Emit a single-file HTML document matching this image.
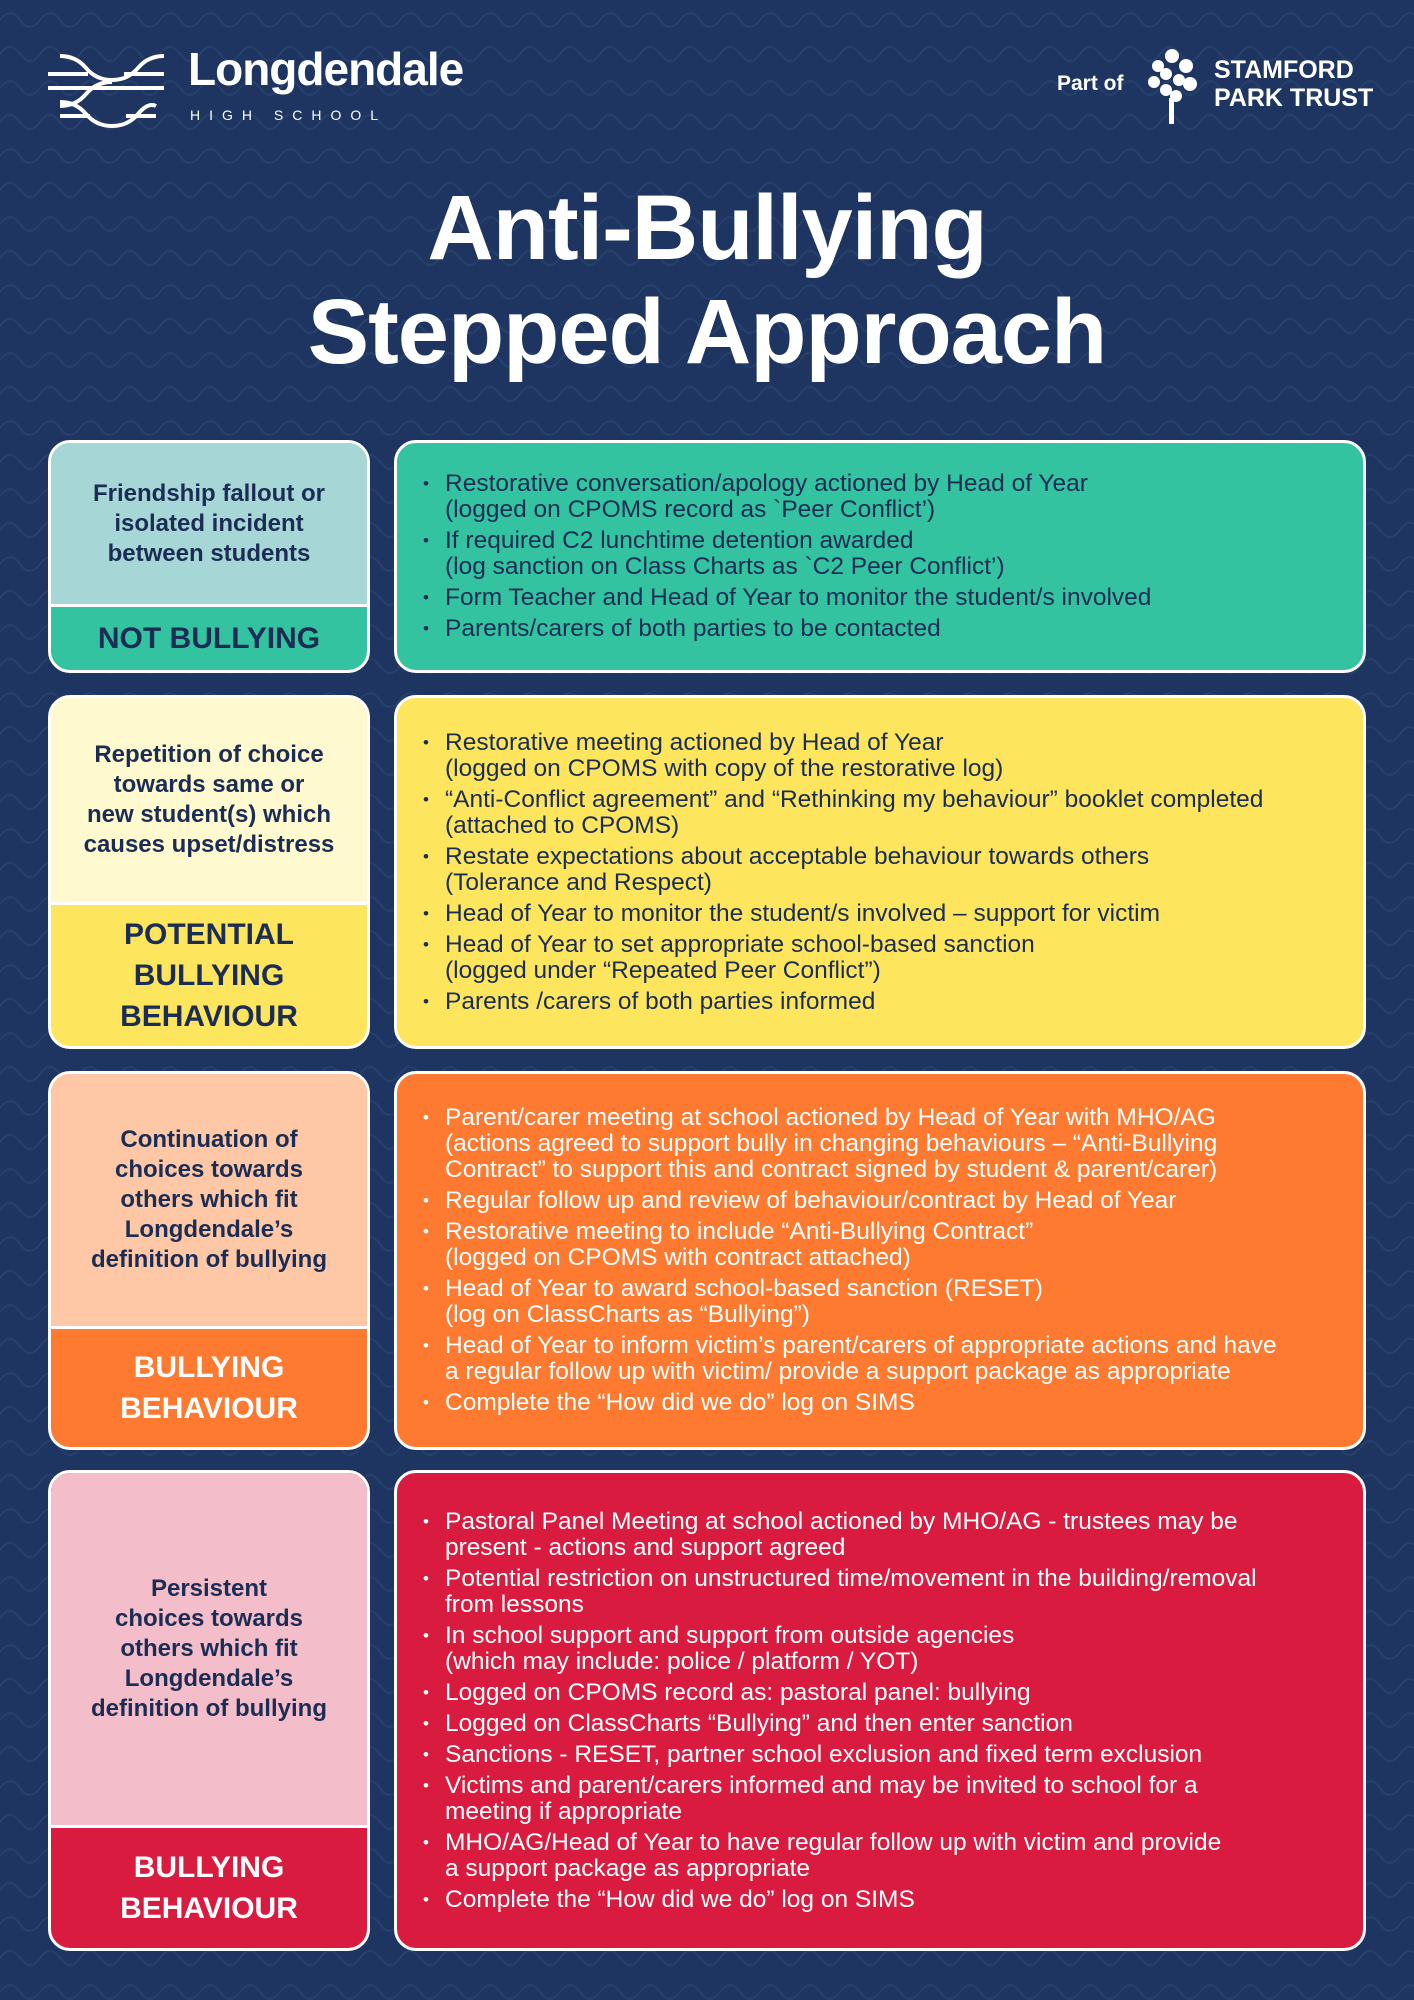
<!DOCTYPE html>
<html><head><meta charset="utf-8"><style>
*{margin:0;padding:0;box-sizing:border-box}
body{width:1414px;height:2000px;background:#1e3461;position:relative;overflow:hidden;font-family:"Liberation Sans",sans-serif;color:#1c2d55}
.bgp{position:absolute;left:0;top:0}
.abs{position:absolute}
.lb{position:absolute;left:48px;width:322px;border:3px solid #fff;border-radius:22px;overflow:hidden;display:flex;flex-direction:column}
.lb .t{display:flex;align-items:center;justify-content:center;text-align:center;font-weight:bold;font-size:24px;line-height:30px;padding:0 6px}
.lb .b{display:flex;align-items:center;justify-content:center;text-align:center;font-weight:bold;font-size:30px;line-height:41px;border-top:3px solid #fff;flex:1}
.rb{position:absolute;left:394px;width:972px;border:3px solid #fff;border-radius:22px;display:flex;flex-direction:column;justify-content:center;padding-left:24px}
.rb ul{list-style:none;font-size:24.5px;line-height:26px}
.rb li{position:relative;padding-left:24px;margin:5px 0;white-space:nowrap}
.rb li:before{content:"•";position:absolute;left:2px;font-size:17px}
</style></head><body>
<svg class="bgp" width="1414" height="2000"><defs><pattern id="w" width="40" height="34" patternUnits="userSpaceOnUse"><path d="M0 20 Q10 6 20 20 T40 20" fill="none" stroke="#26406c" stroke-width="2"/></pattern></defs><rect width="1414" height="2000" fill="url(#w)"/></svg>

<svg class="abs" style="left:46px;top:50px" width="120" height="78" viewBox="0 0 120 78" fill="none" stroke="#fff" stroke-width="4">
<path d="M14 6 Q30 6 40 18 T66 30 Q82 30 92 18 T118 6"/><path d="M2 24h40M78 24h40"/><path d="M2 38h116"/><path d="M14 56 Q30 56 40 44 T66 32"/><path d="M14 52 Q30 52 40 64 T66 76 Q82 76 92 64 T110 56"/><path d="M14 66h30M80 66h30"/></svg>
<div class="abs" style="left:188px;top:42px;color:#fff;font-size:46px;font-weight:bold;letter-spacing:-1px">Longdendale</div>
<div class="abs" style="left:190px;top:107px;color:#fff;font-size:14px;letter-spacing:9px">HIGH SCHOOL</div>

<div class="abs" style="left:1057px;top:72px;color:#fff;font-size:21px;font-weight:bold">Part of</div>
<svg class="abs" style="left:1146px;top:48px" width="52" height="76" viewBox="0 0 52 76" fill="#fff"><circle cx="26" cy="8" r="7"/><circle cx="12" cy="18" r="6"/><circle cx="40" cy="18" r="7"/><circle cx="20" cy="26" r="6"/><circle cx="33" cy="32" r="6"/><circle cx="8" cy="34" r="6"/><circle cx="44" cy="36" r="7"/><circle cx="20" cy="42" r="6"/><circle cx="30" cy="48" r="6"/><rect x="23" y="50" width="5" height="26"/></svg>
<div class="abs" style="left:1214px;top:56px;color:#fff;font-size:25px;font-weight:bold;line-height:28px;text-align:left">STAMFORD<br>PARK TRUST</div>

<div class="abs" style="left:0;width:1414px;top:176px;text-align:center;color:#fff;font-weight:bold;font-size:92px;line-height:104px;letter-spacing:-1px">Anti-Bullying<br>Stepped Approach</div>

<!-- Row 1 -->
<div class="lb" style="top:440px;height:233px;background:#33c3a0">
<div class="t" style="height:161px;background:#a6d7d6">Friendship fallout or<br>isolated incident<br>between students</div>
<div class="b">NOT BULLYING</div></div>
<div class="rb" style="top:440px;height:233px;background:#33c3a0"><ul>
<li>Restorative conversation/apology actioned by Head of Year<br>(logged on CPOMS record as `Peer Conflict’)</li>
<li>If required C2 lunchtime detention awarded<br>(log sanction on Class Charts as `C2 Peer Conflict’)</li>
<li>Form Teacher and Head of Year to monitor the student/s involved</li>
<li>Parents/carers of both parties to be contacted</li></ul></div>

<!-- Row 2 -->
<div class="lb" style="top:695px;height:354px;background:#fde65d">
<div class="t" style="height:204px;background:#fef9cf">Repetition of choice<br>towards same or<br>new student(s) which<br>causes upset/distress</div>
<div class="b">POTENTIAL<br>BULLYING<br>BEHAVIOUR</div></div>
<div class="rb" style="top:695px;height:354px;background:#fde65d"><ul>
<li>Restorative meeting actioned by Head of Year<br>(logged on CPOMS with copy of the restorative log)</li>
<li>“Anti-Conflict agreement” and “Rethinking my behaviour” booklet completed<br>(attached to CPOMS)</li>
<li>Restate expectations about acceptable behaviour towards others<br>(Tolerance and Respect)</li>
<li>Head of Year to monitor the student/s involved – support for victim</li>
<li>Head of Year to set appropriate school-based sanction<br>(logged under “Repeated Peer Conflict”)</li>
<li>Parents /carers of both parties informed</li></ul></div>

<!-- Row 3 -->
<div class="lb" style="top:1071px;height:379px;background:#fe7a30">
<div class="t" style="height:252px;background:#fec7a6">Continuation of<br>choices towards<br>others which fit<br>Longdendale’s<br>definition of bullying</div>
<div class="b" style="color:#fff">BULLYING<br>BEHAVIOUR</div></div>
<div class="rb" style="top:1071px;height:379px;background:#fe7a30;color:#fff"><ul>
<li>Parent/carer meeting at school actioned by Head of Year with MHO/AG<br>(actions agreed to support bully in changing behaviours – “Anti-Bullying<br>Contract” to support this and contract signed by student &amp; parent/carer)</li>
<li>Regular follow up and review of behaviour/contract by Head of Year</li>
<li>Restorative meeting to include “Anti-Bullying Contract”<br>(logged on CPOMS with contract attached)</li>
<li>Head of Year to award school-based sanction (RESET)<br>(log on ClassCharts as “Bullying”)</li>
<li>Head of Year to inform victim’s parent/carers of appropriate actions and have<br>a regular follow up with victim/ provide a support package as appropriate</li>
<li>Complete the “How did we do” log on SIMS</li></ul></div>

<!-- Row 4 -->
<div class="lb" style="top:1470px;height:481px;background:#d81b3f">
<div class="t" style="height:352px;background:#f3bdc9">Persistent<br>choices towards<br>others which fit<br>Longdendale’s<br>definition of bullying</div>
<div class="b" style="color:#fff">BULLYING<br>BEHAVIOUR</div></div>
<div class="rb" style="top:1470px;height:481px;background:#d81b3f;color:#fff"><ul>
<li>Pastoral Panel Meeting at school actioned by MHO/AG - trustees may be<br>present - actions and support agreed</li>
<li>Potential restriction on unstructured time/movement in the building/removal<br>from lessons</li>
<li>In school support and support from outside agencies<br>(which may include: police / platform / YOT)</li>
<li>Logged on CPOMS record as: pastoral panel: bullying</li>
<li>Logged on ClassCharts “Bullying” and then enter sanction</li>
<li>Sanctions - RESET, partner school exclusion and fixed term exclusion</li>
<li>Victims and parent/carers informed and may be invited to school for a<br>meeting if appropriate</li>
<li>MHO/AG/Head of Year to have regular follow up with victim and provide<br>a support package as appropriate</li>
<li>Complete the “How did we do” log on SIMS</li></ul></div>
</body></html>
